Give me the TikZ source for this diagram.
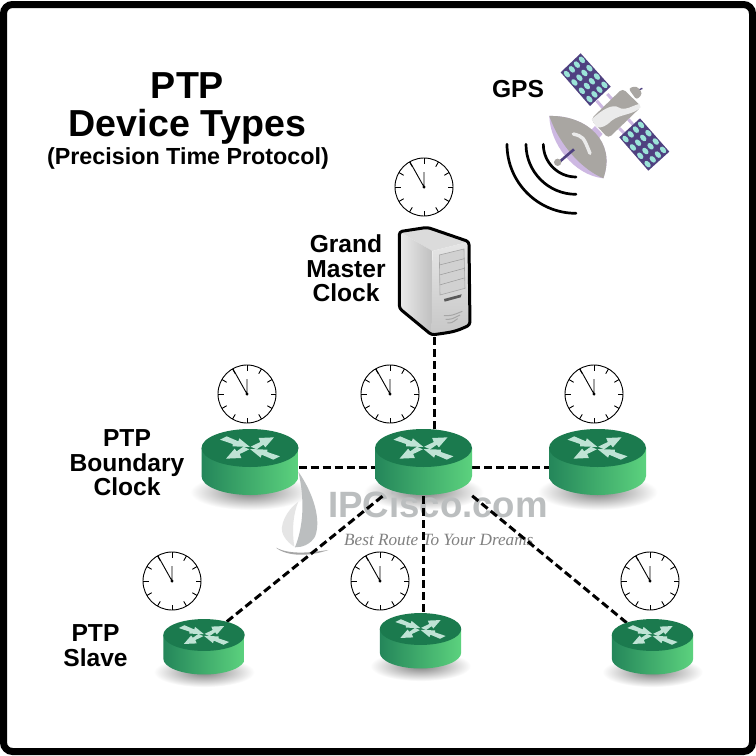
\documentclass[tikz,border=0pt]{standalone}
\usepackage{fontspec}
\setmainfont{Liberation Sans}
\newfontfamily\tagfont{Liberation Serif}
\usetikzlibrary{positioning}
\definecolor{routertop}{HTML}{1B7A4E}
\definecolor{routerleft}{HTML}{24865A}
\definecolor{routerright}{HTML}{5CD27E}
\definecolor{routerarrow}{HTML}{BFE3D5}
\definecolor{panelblue}{HTML}{4F4180}
\definecolor{panelcell}{HTML}{9BE3D8}
\definecolor{satgray}{HTML}{A9A6A2}
\definecolor{satlilac}{HTML}{CDB8E2}
\definecolor{markgray}{HTML}{BBBEBF}
\tikzset{
  label text/.style={font=\fontsize{24.6}{24.5}\selectfont\bfseries, align=center, inner sep=0pt},
  routerbox/.style={minimum width=97pt, minimum height=66pt, inner sep=0pt},
  smallbox/.style={minimum width=82pt, minimum height=52pt, inner sep=0pt},
  link/.style={line width=3pt, dash pattern=on 8pt off 4pt},
  pics/clockface/.style={code={
    \draw[black, line width=.9pt, fill=white] (0,0) circle (29);
    \foreach \a in {0,30,...,330}
      \draw[black, line width=.9pt] (\a:29) -- (\a:23.5);
    \draw[black, line width=.9pt] (0,-15) -- (0,0) -- (-14,-25);
    \fill (0,0) circle (1.6);
  }},
  pics/routershadow/.style={code={
    \shade[inner color=black!50, outer color=white] (0,44) ellipse (60 and 18);
  }},
  pics/router/.style={code={
    \shade[left color=routerleft, right color=routerright]
      (-48.5,0) -- (-48.5,28) arc[start angle=180, end angle=0, x radius=48.5, y radius=19] -- (48.5,0) -- cycle;
    \fill[routertop] (0,0) ellipse (48.5 and 19);
    \begin{scope}[scale=.3333]
      \foreach \s in {1,-1} {
        \fill[routerarrow, scale=\s] (-90,-25) -- (-70,-35) -- (-35,-20) -- (-32,-29) -- (0,-3)
          -- (-52,-5) -- (-52,-12) -- cycle;
        \fill[routerarrow, scale=\s] (2,-4) -- (20,4) -- (40,-10) -- (46,-2) -- (72,-32)
          -- (26,-30) -- (31,-18) -- cycle;
      }
    \end{scope}
  }}
}
\begin{document}
\begin{tikzpicture}[x=1pt, y=-1pt]
\useasboundingbox (0,0) rectangle (756,756);
\fill[white] (0,0) rectangle (756,756);
\draw[black, line width=7pt, rounded corners=9pt] (3.5,4.5) rectangle (752.5,751.5);

\node[font=\fontsize{37.6}{38}\selectfont\bfseries, align=center, inner sep=0pt] (title) at (187.5,108) {PTP\\Device Types};
\node[font=\fontsize{23.3}{24}\selectfont\bfseries, inner sep=0pt] (subtitle) at (188,158) {(Precision Time Protocol)};
\node[label text] (gps) at (518,89.5) {GPS};
\node[label text] (grand) at (346,268.5) {Grand\\Master\\Clock};
\node[label text] (boundary) at (127,463) {PTP\\Boundary\\Clock};
\node[label text] (slave) at (95.5,645.5) {PTP\\Slave};

\node[minimum width=71pt, minimum height=110pt, inner sep=0pt] (srv) at (434.5,282) {};
\node[routerbox] (rl) at (250,463) {};
\node[routerbox] (rc) at (423.5,463) {};
\node[routerbox] (rr) at (597.5,463) {};
\node[smallbox] (rsl) at (204,640) {};
\node[smallbox] (rsm) at (420.5,639) {};
\node[smallbox] (rsr) at (652.5,644) {};

\pic at (250,448) {routershadow};
\pic at (423.5,448) {routershadow};
\pic at (597.5,448) {routershadow};
\pic[scale=.84] at (204,635) {routershadow};
\pic[scale=.84] at (420.5,629) {routershadow};
\pic[scale=.84] at (652.5,635) {routershadow};

\begin{scope}[shift={(260,360)}, scale=.3333]
  \fill[markgray] (115,335) .. controls (160,400) and (185,480) .. (165,530) .. controls (150,555) and (125,562) .. (105,562)
    .. controls (130,500) and (135,420) .. cycle;
  \fill[black!10] (115,425) .. controls (80,450) and (55,500) .. (70,525) .. controls (80,545) and (95,555) .. (103,560)
    .. controls (95,510) and (100,460) .. cycle;
  \fill[black!35] (48,563) .. controls (80,590) and (150,590) .. (205,570) .. controls (150,578) and (90,585) .. cycle;
\end{scope}
\node[font=\fontsize{36.6}{36}\selectfont\bfseries, text=markgray, inner sep=0pt, anchor=base west] (mark) at (328,517) {IPCisco.com};
\node[font=\fontsize{17.2}{18}\selectfont\tagfont\itshape, text=black!50, inner sep=0pt, anchor=base west] (tag) at (344,545) {Best Route To Your Dreams};

\draw[link] (srv.south) -- (srv.south |- rc.north);
\draw[link] ([yshift=-4pt]rl.east) -- ([yshift=-4pt]rc.west);
\draw[link] ([yshift=-4pt]rc.east) -- ([yshift=-4pt]rr.west);
\draw[link] (rc.-141) -- (rsl.center);
\draw[link] (rc.south) -- (rc.south |- rsm.north);
\draw[link] (rc.-34) -- (rsr.center);

\pic at (250,448) {router};
\pic at (423.5,448) {router};
\pic at (597.5,448) {router};
\pic[scale=.84] at (204,635) {router};
\pic[scale=.84] at (420.5,629) {router};
\pic[scale=.84] at (652.5,635) {router};

\pic at (424,187) {clockface};
\pic at (247,394) {clockface};
\pic at (390,394) {clockface};
\pic at (594,394) {clockface};
\pic at (172,581) {clockface};
\pic at (380,581) {clockface};
\pic at (650,581) {clockface};

\begin{scope}[shift={(340,150)}, scale=.3333]
  \fill[black!14] (178,245) -- (262,232) -- (387,275) -- (277,303) -- cycle;
  \shade[left color=black!8, right color=black!25] (178,245) -- (277,303) -- (275,555) -- (178,475) -- cycle;
  \shade[top color=black!10, bottom color=black!22] (277,303) -- (387,275) -- (390,525) .. controls (345,545) .. (275,555) -- cycle;
  \draw[black!35, fill=black!18, line width=.6pt] (298,315) -- (372,297) -- (375,415) -- (300,435) -- cycle;
  \foreach \k in {1,2,3}
    \draw[black!40, line width=.5pt] (298.5,315+\k*30) -- (373,297+\k*29);
  \fill[black!65] (312,447) -- (365,433) -- (362,442) -- (314,455) -- cycle;
  \foreach \k in {0,1,2}
    \draw[black!35, line width=1pt] (312+\k*5,497+\k*11) .. controls (335,497+\k*11) .. (367-\k*7,484+\k*11);
  \draw[black, line width=3pt, line join=round, rounded corners=3pt] (178,245) -- (262,232) -- (387,275) -- (390,525) .. controls (345,545) .. (275,555) -- (178,475) -- cycle;
\end{scope}

\begin{scope}[shift={(480,30)}, scale=.3333]
  \foreach \xa/\ya/\xb/\yb in {350/212/372/238, 382/192/402/214, 418/295/438/315, 445/268/465/290}
    \draw[satlilac, line width=3pt] (\xa,\ya) -- (\xb,\yb);
  \fill[panelblue] (302,70) -- (392,170) -- (330,228) -- (242,127) -- cycle;
  \fill[panelblue] (480,265) -- (568,365) -- (505,422) -- (418,322) -- cycle;
  \foreach \i in {.5,1.5,2.5,3.5} \foreach \j in {.5,1.5,2.5,3.5} {
    \fill[panelcell, shift={(302+22.5*\i-15*\j,70+25*\i+14.25*\j)}, rotate=-48] (0,0) ellipse (11.5 and 7.5);
    \fill[panelcell, shift={(480+22*\i-15.5*\j,265+25*\i+14.25*\j)}, rotate=-48] (0,0) ellipse (11.5 and 7.5);
  }
  \draw[panelblue, line width=1.4pt] (470,183) -- (487,175);
  \fill[satgray, rounded corners=3pt] (445,175) -- (470,168) -- (488,190) -- (470,210) -- cycle;
  \fill[satlilac] (322,312) -- (345,288) -- (368,312) -- (345,338) -- cycle;
  \fill[satgray, rounded corners=4pt] (428,175) -- (484,230) -- (385,325) -- (332,268) -- cycle;
  \fill[black!8] (335,268) .. controls (370,235) and (400,222) .. (415,232) .. controls (435,245) and (460,225) .. (478,222)
    -- (482,232) .. controls (460,255) and (420,252) .. (395,272) .. controls (380,287) and (365,295) .. (350,292) -- cycle;
  \fill[satlilac] (208,258) .. controls (210,340) and (280,435) .. (370,445) .. controls (410,335) and (320,255) .. cycle;
  \fill[satgray] (208,258) .. controls (320,255) and (410,335) .. (370,445) .. controls (310,420) and (240,350) .. cycle;
  \draw[black!8, line width=3.4pt, line cap=round] (280,312) .. controls (310,320) .. (330,370);
  \draw[panelblue, line width=2.6pt] (282,358) -- (238,396);
  \fill[satgray] (233,397) circle (11);
  \foreach \r in {98,150,207}
    \draw[black, line width=2.7pt, line cap=round] (288-\r,343) arc[start angle=180, end angle=90, radius=\r];
\end{scope}
\end{tikzpicture}
\end{document}
